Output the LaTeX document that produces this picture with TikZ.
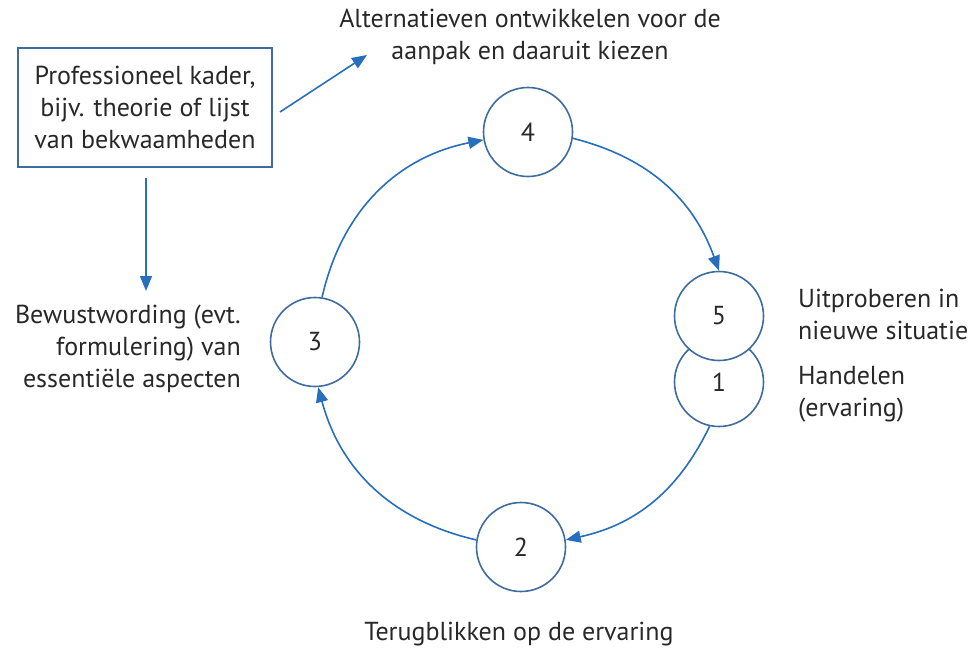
\documentclass[tikz,border=0pt]{standalone}
\usepackage{fontspec}
\setmainfont{PT Sans}
\usetikzlibrary{arrows.meta}
\definecolor{circ}{RGB}{62,107,160}
\definecolor{arr}{RGB}{40,110,190}
\definecolor{txt}{RGB}{40,40,40}
\begin{document}
\begin{tikzpicture}[x=1pt,y=-1pt,
  stage/.style={circle,draw=circ,fill=white,line width=1.6pt,minimum size=89pt,inner sep=0pt,text=txt,font=\fontsize{26}{30}\selectfont},
  lbl/.style={text=txt,font=\fontsize{26}{32}\selectfont,inner sep=0pt},
  flow/.style={draw=arr,line width=1.6pt,-{Triangle[length=15pt,width=12pt]}},
  kader/.style={draw=circ,line width=1.6pt,minimum width=254pt,minimum height=119pt,inner sep=0pt,align=center,text=txt,font=\fontsize{26}{32}\selectfont}]
\useasboundingbox (0,0) rectangle (974,653);
\node[stage] (c4) at (528,132) {4};
\node[stage] (c1) at (719,382) {1};
\node[stage] (c5) at (719,316) {5};
\node[stage] (c2) at (521,547) {2};
\node[stage] (c3) at (315,342) {3};
\node[kader] (box) at (145,107.5) {Professioneel kader,\\bijv. theorie of lijst\\van bekwaamheden};
\node[lbl,align=center] (t4) at (530,37) {Alternatieven ontwikkelen voor de\\aanpak en daaruit kiezen};
\node[lbl,align=left,anchor=west] (t5) at (798,314) {Uitproberen in\\nieuwe situatie};
\node[lbl,align=left,anchor=west] (t1) at (798,394) {Handelen\\(ervaring)};
\node[lbl,align=right,anchor=east] (t3) at (241,349) {Bewustwording (evt.\\formulering) van\\essentiële aspecten};
\node[lbl] (t2) at (519,634) {Terugblikken op de ervaring};
\coordinate (boxout) at (280,112);
\coordinate (t4in) at (367,55);
\coordinate (boxdown) at (146,178);
\coordinate (t3in) at (146,291);
\draw[flow] (boxout) -- (t4in);
\draw[flow] (boxdown) -- (t3in);
\draw[flow] (c3.81) to[bend left=33] (c4.190);
\draw[flow] (c4.-8) to[bend left=28] (c5.90);
\draw[flow] (c1.258) to[bend left=26] (c2.9);
\draw[flow] (c2.171) to[bend left=31] (c3.-86);
\end{tikzpicture}
\end{document}
